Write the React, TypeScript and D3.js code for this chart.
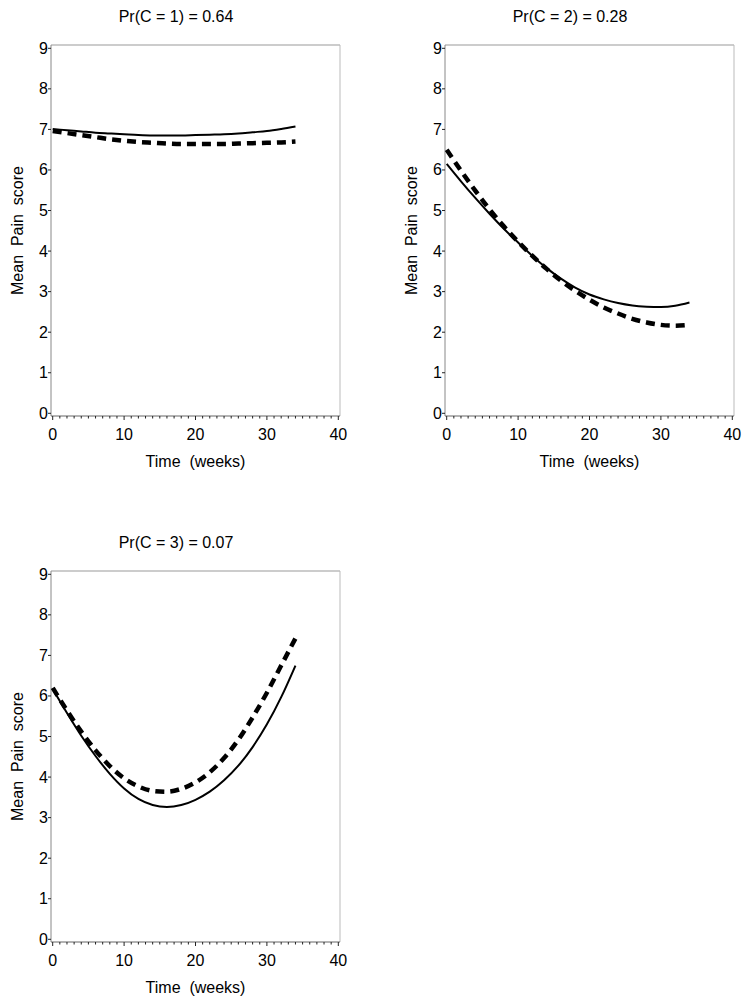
import React from "react";
import * as d3 from "d3";

const weeks = [0, 2, 4, 6, 8, 10, 12, 14, 16, 18, 20, 22, 24, 26, 28, 30, 32, 34];

const titles = ["Pr(C = 1) = 0.64", "Pr(C = 2) = 0.28", "Pr(C = 3) = 0.07"];

const solid1 = [7.01, 6.98, 6.95, 6.92, 6.9, 6.88, 6.86, 6.85, 6.85, 6.85, 6.86, 6.87, 6.88, 6.9, 6.93, 6.96, 7.01, 7.07];
const dashed1 = [6.96, 6.91, 6.86, 6.81, 6.76, 6.72, 6.69, 6.67, 6.65, 6.64, 6.64, 6.64, 6.64, 6.65, 6.66, 6.67, 6.68, 6.7];

const solid2 = [6.15, 5.72, 5.31, 4.92, 4.55, 4.21, 3.88, 3.58, 3.32, 3.1, 2.93, 2.81, 2.72, 2.66, 2.63, 2.62, 2.65, 2.73];
const dashed2 = [6.5, 5.98, 5.49, 5.03, 4.61, 4.23, 3.88, 3.56, 3.27, 3.02, 2.8, 2.61, 2.46, 2.33, 2.24, 2.18, 2.16, 2.18];

const solid3 = [6.17, 5.58, 5.02, 4.52, 4.08, 3.72, 3.46, 3.31, 3.26, 3.31, 3.44, 3.64, 3.92, 4.28, 4.74, 5.3, 5.97, 6.75];
const dashed3 = [6.2, 5.64, 5.12, 4.66, 4.27, 3.97, 3.77, 3.66, 3.64, 3.71, 3.87, 4.12, 4.47, 4.92, 5.47, 6.08, 6.75, 7.42];

const yTicks = [0, 1, 2, 3, 4, 5, 6, 7, 8, 9];
const xMajor = [0, 10, 20, 30, 40];
const xMinor = d3.range(0, 41, 1);

const panels = [
  { title: titles[0], solid: solid1, dashed: dashed1, dx: 0, dy: 0 },
  { title: titles[1], solid: solid2, dashed: dashed2, dx: 394, dy: 0 },
  { title: titles[2], solid: solid3, dashed: dashed3, dx: 0, dy: 526 },
];

const FONT = "'Liberation Sans', Arial, Helvetica, sans-serif";

function Panel({ title, solid, dashed, dx, dy }: any) {
  const x = d3.scaleLinear().domain([0, 40]).range([52.7, 338.3]);
  const y = d3.scaleLinear().domain([0, 9]).range([413.3, 48.3]);
  const left = 51;
  const right = 340;
  const top = 45;
  const bottom = 416;
  const line = d3
    .line<number>()
    .x((_, i) => x(weeks[i]))
    .y((d) => y(d))
    .curve(d3.curveMonotoneX);
  const cx = (left + right) / 2;
  const cy = (top + bottom) / 2;
  return (
    <g transform={`translate(${dx},${dy})`} fontFamily={FONT} fill="#000">
      <text x={176} y={22} fontSize={16} textAnchor="middle">
        {title}
      </text>
      {/* frame */}
      <line x1={left} x2={right} y1={top} y2={top} stroke="#999" strokeWidth={1} />
      <line x1={right} x2={right} y1={top} y2={bottom} stroke="#bbb" strokeWidth={1} />
      <line x1={left} x2={left} y1={top} y2={bottom} stroke="#888" strokeWidth={1} />
      <line x1={left} x2={right} y1={bottom} y2={bottom} stroke="#666" strokeWidth={1} />
      {/* y ticks */}
      {yTicks.map((t) => (
        <g key={"y" + t}>
          <line x1={left - 3} x2={left} y1={y(t)} y2={y(t)} stroke="#222" strokeWidth={1} />
          <text x={left - 3} y={y(t) + 5.5} fontSize={16} textAnchor="end">
            {t}
          </text>
        </g>
      ))}
      {/* x ticks */}
      {xMinor.map((t) => (
        <line
          key={"xm" + t}
          x1={x(t)}
          x2={x(t)}
          y1={bottom}
          y2={bottom + (t % 10 === 0 ? 4 : 2.5)}
          stroke="#222"
          strokeWidth={1}
        />
      ))}
      {xMajor.map((t) => (
        <text key={"xl" + t} x={x(t)} y={440} fontSize={16} textAnchor="middle">
          {t}
        </text>
      ))}
      <text x={cx} y={467} fontSize={16} textAnchor="middle" style={{ whiteSpace: "pre" }}>
        {"Time  (weeks)"}
      </text>
      <text
        transform={`translate(23,${cy}) rotate(-90)`}
        fontSize={16}
        textAnchor="middle"
        style={{ whiteSpace: "pre" }}
      >
        {"Mean  Pain  score"}
      </text>
      {/* curves */}
      <path d={line(solid) || ""} fill="none" stroke="#000" strokeWidth={2} />
      <path
        d={line(dashed) || ""}
        fill="none"
        stroke="#000"
        strokeWidth={4.5}
        strokeDasharray="9 6"
      />
    </g>
  );
}

export default function App() {
  return (
    <svg width={751} height={1007} style={{ position: "absolute", left: 0, top: 0 }}>
      <rect width={751} height={1007} fill="#fff" />
      {panels.map((p, i) => (
        <Panel key={i} {...p} />
      ))}
    </svg>
  );
}
